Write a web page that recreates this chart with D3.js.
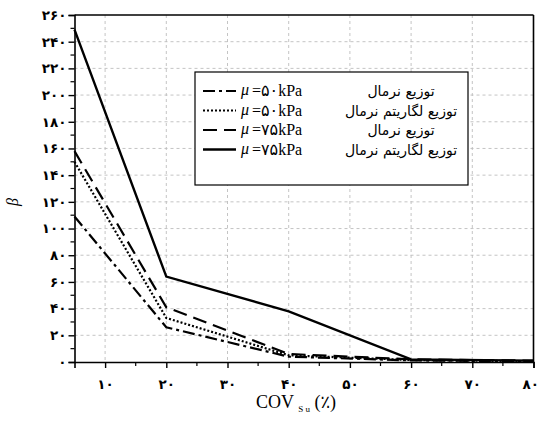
<!DOCTYPE html>
<html>
<head>
<meta charset="utf-8">
<script src="https://cdn.jsdelivr.net/npm/d3@7"></script>
<style>
  body { margin: 0; background: #fff; }
  svg { display: block; }
</style>
</head>
<body>
<div id="chart"></div>
<script>
// COV values (%) along x
var covValues = [5, 20, 40, 60, 80];
// beta for each case
var normal50 = [109, 26, 4, 1.2, 0.5];
var lognormal50 = [150, 33, 5, 1.5, 0.5];
var normal75 = [158, 41, 6, 2, 1];
var lognormal75 = [249, 64, 38, 2, 1];

var xTickValues = [10, 20, 30, 40, 50, 60, 70, 80];
var yTickValues = [0, 20, 40, 60, 80, 100, 120, 140, 160, 180, 200, 220, 240, 260];

var legendMu = ["=۵۰kPa", "=۵۰kPa", "=۷۵kPa", "=۷۵kPa"];
var legendNames = ["توزیع نرمال", "توزیع لگاریتم نرمال", "توزیع نرمال", "توزیع لگاریتم نرمال"];

var faDigits = "۰۱۲۳۴۵۶۷۸۹";
function toFa(n) {
  return String(n).replace(/[0-9]/g, function(c) { return faDigits[+c]; });
}

var W = 540, H = 430;
var margin = {top: 15, right: 6.5, bottom: 68, left: 74.5};
var width = W - margin.left - margin.right,
    height = H - margin.top - margin.bottom;

var svg = d3.select("#chart").append("svg")
  .attr("width", W)
  .attr("height", H);

var g = svg.append("g")
  .attr("transform", "translate(" + margin.left + "," + margin.top + ")");

var x = d3.scaleLinear().domain([5, 80]).range([0, width]);
var y = d3.scaleLinear().domain([0, 260]).range([height, 0]);

// grid
g.append("g").selectAll("line")
  .data(xTickValues.filter(function(d) { return d < 80; }))
  .enter().append("line")
    .attr("x1", function(d) { return x(d); })
    .attr("x2", function(d) { return x(d); })
    .attr("y1", 0).attr("y2", height)
    .attr("stroke", "#bdbdbd")
    .attr("stroke-width", 0.9)
    .attr("stroke-dasharray", "3,3");

g.append("g").selectAll("line")
  .data(yTickValues.filter(function(d) { return d > 0 && d < 260; }))
  .enter().append("line")
    .attr("x1", 0).attr("x2", width)
    .attr("y1", function(d) { return y(d); })
    .attr("y2", function(d) { return y(d); })
    .attr("stroke", "#bdbdbd")
    .attr("stroke-width", 0.9)
    .attr("stroke-dasharray", "3,3");

// axes
var xAxis = g.append("g")
  .attr("transform", "translate(0," + height + ")")
  .call(d3.axisBottom(x).tickValues(xTickValues).tickSize(6).tickFormat(toFa));
xAxis.append("g").selectAll("line")
  .data(d3.range(15, 80, 10))
  .enter().append("line")
    .attr("x1", function(d) { return x(d); })
    .attr("x2", function(d) { return x(d); })
    .attr("y1", 0).attr("y2", 4)
    .attr("stroke", "#000").attr("stroke-width", 1.2);

var yAxis = g.append("g")
  .call(d3.axisLeft(y).tickValues(yTickValues).tickSize(6).tickFormat(toFa));
yAxis.append("g").selectAll("line")
  .data(d3.range(10, 260, 20))
  .enter().append("line")
    .attr("x1", 0).attr("x2", -4)
    .attr("y1", function(d) { return y(d); })
    .attr("y2", function(d) { return y(d); })
    .attr("stroke", "#000").attr("stroke-width", 1.2);

[xAxis, yAxis].forEach(function(a) {
  a.select(".domain").attr("stroke-width", 1.6);
  a.selectAll(".tick line").attr("stroke-width", 1.4);
  a.selectAll("text")
    .attr("font-family", "'DejaVu Sans', sans-serif")
    .attr("font-size", 13.5)
    .attr("font-weight", "bold")
    .attr("fill", "#000");
});
xAxis.selectAll(".tick text").attr("dy", "1.3em");
// keep the last label inside the page
xAxis.selectAll(".tick text").filter(function(d) { return d === 80; })
  .attr("text-anchor", "end").attr("x", 5);
yAxis.selectAll(".tick text").attr("x", -8);

// top and right frame
g.append("line").attr("x1", 0).attr("x2", width).attr("y1", 0).attr("y2", 0)
  .attr("stroke", "#000").attr("stroke-width", 1.6);
g.append("line").attr("x1", width).attr("x2", width).attr("y1", 0).attr("y2", height)
  .attr("stroke", "#000").attr("stroke-width", 1.6);

// series
var series = [
  {values: normal50, dash: "12,4,3,4", w: 2.2},
  {values: lognormal50, dash: "2,2", w: 2.2},
  {values: normal75, dash: "14,7", w: 2.2},
  {values: lognormal75, dash: null, w: 2.4}
];

var line = d3.line()
  .x(function(d) { return x(d[0]); })
  .y(function(d) { return y(d[1]); });

series.forEach(function(s) {
  g.append("path")
    .datum(d3.zip(covValues, s.values))
    .attr("d", line)
    .attr("fill", "none")
    .attr("stroke", "#000")
    .attr("stroke-width", s.w)
    .attr("stroke-dasharray", s.dash);
});

// legend
var lg = svg.append("g").attr("transform", "translate(195,72)");
lg.append("rect")
  .attr("width", 273).attr("height", 113)
  .attr("fill", "#fff")
  .attr("stroke", "#000").attr("stroke-width", 1.2);

series.forEach(function(s, i) {
  var ry = 19 + i * 19.5;
  lg.append("line")
    .attr("x1", 8).attr("x2", 41)
    .attr("y1", ry).attr("y2", ry)
    .attr("stroke", "#000")
    .attr("stroke-width", s.w)
    .attr("stroke-dasharray", s.dash);
  lg.append("text")
    .attr("x", 46).attr("y", ry + 4)
    .attr("font-family", "'Liberation Serif', serif")
    .attr("font-style", "italic")
    .attr("font-size", 16)
    .text("μ");
  lg.append("text")
    .attr("x", 57).attr("y", ry + 5)
    .attr("font-family", "'Liberation Serif', 'DejaVu Sans', serif")
    .attr("font-size", 16)
    .text(legendMu[i]);
  lg.append("text")
    .attr("x", 206).attr("y", ry + 5)
    .attr("text-anchor", "middle")
    .attr("direction", "rtl")
    .attr("font-family", "'DejaVu Sans', sans-serif")
    .attr("font-size", 14)
    .text(legendNames[i]);
});

// axis titles
var xt = svg.append("text")
  .attr("x", margin.left + width / 2 - 8)
  .attr("y", 408)
  .attr("text-anchor", "middle")
  .attr("font-family", "'Liberation Serif', 'DejaVu Sans', serif")
  .attr("font-size", 18);
xt.append("tspan").text("COV ");
xt.append("tspan").attr("font-size", 9).attr("dy", 4).text("S u");
xt.append("tspan").attr("dy", -4).text(" (٪)");

svg.append("text")
  .attr("transform", "translate(18,202) rotate(-90)")
  .attr("text-anchor", "middle")
  .attr("font-family", "'Liberation Serif', serif")
  .attr("font-style", "italic")
  .attr("font-size", 16)
  .text("β");
</script>
</body>
</html>
